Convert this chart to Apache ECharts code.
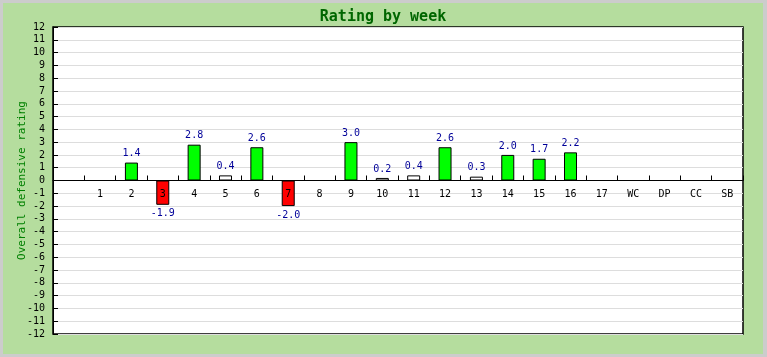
<!DOCTYPE html>
<html>
<head>
<meta charset="utf-8">
<script src="https://cdn.jsdelivr.net/npm/echarts@6/dist/echarts.min.js"></script>
<style>
html,body{margin:0;padding:0;background:#cccccc;}
#wrap{position:absolute;left:0;top:0;width:767px;height:357px;background:#cccccc;}
#chart{position:absolute;left:3px;top:3px;width:760px;height:351px;background:#b5dd9e;}
</style>
</head>
<body>
<div id="wrap"><div id="chart"></div></div>
<script>
const categories = ['', '1', '2', '3', '4', '5', '6', '7', '8', '9', '10', '11', '12', '13', '14', '15', '16', '17', 'WC', 'DP', 'CC', 'SB'];
const ratings = [null, null, 1.4, -1.9, 2.8, 0.4, 2.6, -2.0, null, 3.0, 0.2, 0.4, 2.6, 0.3, 2.0, 1.7, 2.2, null, null, null, null, null];
const yMin = -12, yMax = 12, yStep = 1;

function barColor(v) {
  if (v < 0) return '#ff0000';
  if (v >= 1) return '#00ff00';
  return '#ffffff';
}
const barData = ratings.map(v => v === null ? '-' : {
  value: v,
  itemStyle: { color: barColor(v) },
  label: { position: v < 0 ? 'bottom' : 'top' }
});

const font = 'DejaVu Sans Mono';
const gridTop = 24, gridBottom = 20, chartH = 351;
const gridH = chartH - gridTop - gridBottom;
const zeroOffset = -gridH * (0 - yMin) / (yMax - yMin);

const chart = echarts.init(document.getElementById('chart'));
chart.setOption({
  animation: false,
  title: {
    text: 'Rating by week',
    left: 'center',
    top: 2,
    textStyle: { fontFamily: font, fontSize: 15, fontWeight: 'bold', color: '#006600' }
  },
  grid: {
    left: 50, top: gridTop, right: 20, bottom: gridBottom,
    show: true, backgroundColor: '#ffffff', borderColor: '#000000', borderWidth: 1.5
  },
  xAxis: {
    type: 'category',
    data: categories,
    z: 5,
    position: 'bottom',
    offset: zeroOffset,
    axisLine: { show: true, onZero: false, lineStyle: { color: '#000000', width: 1 } },
    axisTick: { show: true, inside: true, length: 5, alignWithLabel: false, lineStyle: { color: '#000000' } },
    axisLabel: { margin: 9, interval: 0, hideOverlap: false, fontFamily: font, fontSize: 10, color: '#000000' },
    splitLine: { show: false }
  },
  yAxis: {
    type: 'value',
    min: yMin, max: yMax, interval: yStep,
    name: 'Overall defensive rating',
    nameLocation: 'middle',
    nameGap: 25,
    nameMoveOverlap: false,
    nameTextStyle: { fontFamily: font, fontSize: 11, color: '#008000' },
    axisLine: { show: true, lineStyle: { color: '#000000' } },
    axisTick: { show: true, inside: true, length: 5, lineStyle: { color: '#000000' } },
    axisLabel: { margin: 8, fontFamily: font, fontSize: 10, color: '#000000' },
    splitLine: { show: true, lineStyle: { color: '#dddddd', width: 1 } }
  },
  series: [{
    type: 'bar',
    z: 2,
    data: barData,
    barWidth: 13,
    itemStyle: { borderColor: '#000000', borderWidth: 1 },
    label: {
      show: true,
      distance: 4,
      fontFamily: font, fontSize: 10, color: '#000099',
      formatter: p => Number(p.value).toFixed(1)
    }
  }]
});
</script>
</body>
</html>
